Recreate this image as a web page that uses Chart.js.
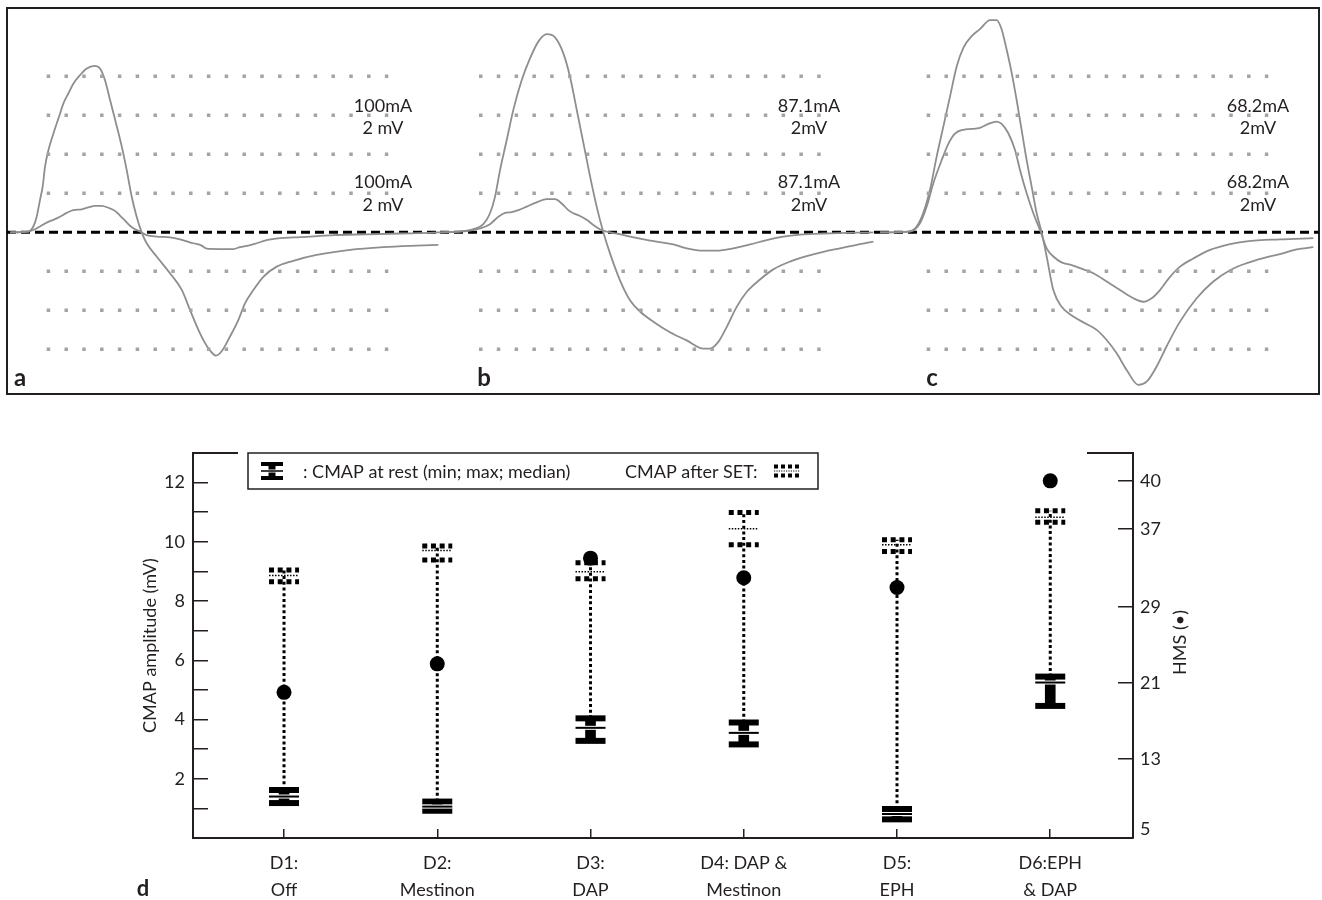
<!DOCTYPE html>
<html><head><meta charset="utf-8">
<script src="https://cdn.jsdelivr.net/npm/chart.js@4.4.1/dist/chart.umd.min.js"></script>
<style>
html,body{margin:0;padding:0;background:#fff;}
body{width:1322px;height:900px;position:relative;overflow:hidden;}
#frame{position:absolute;left:6px;top:7px;width:1314px;height:388px;border:2px solid #231f20;box-sizing:border-box;}
canvas{position:absolute;}
</style></head><body>
<div id="frame"></div>
<canvas id="panelA" width="440" height="400" style="left:0;top:0"></canvas>
<canvas id="panelB" width="440" height="400" style="left:440px;top:0"></canvas>
<canvas id="panelC" width="440" height="400" style="left:880px;top:0"></canvas>
<canvas id="panelD" width="1322" height="460" style="left:0;top:440px"></canvas>
<script>
// ---------- Panels a-c: CMAP traces, [sample, amplitude in divisions (2 mV / div)] ----------
const A_LARGE = [[30,0],[85,0.02],[100,0.15],[110,0.4],[120,0.83],[128,1.17],[135,1.68],[145,2.1],[160,2.53],[180,3.04],[190,3.3],[205,3.56],[220,3.81],[240,4.03],[260,4.2],[283,4.27],[300,4.2],[315,3.9],[330,3.4],[345,2.9],[365,2.21],[380,1.6],[395,0.92],[410,0.4],[425,0],[440,-0.28],[470,-0.62],[510,-1.05],[545,-1.47],[570,-1.99],[600,-2.59],[625,-2.97],[648,-3.16],[665,-3.05],[690,-2.67],[715,-2.25],[735,-1.82],[760,-1.48],[790,-1.14],[830,-0.88],[880,-0.73],[950,-0.58],[1050,-0.45],[1150,-0.38],[1250,-0.34],[1315,-0.32]];
const A_SMALL = [[30,0],[85,0.02],[100,0.06],[120,0.15],[140,0.25],[160,0.32],[180,0.4],[200,0.5],[220,0.57],[245,0.59],[265,0.64],[285,0.68],[305,0.68],[325,0.63],[345,0.55],[360,0.43],[375,0.3],[390,0.17],[405,0.08],[420,0.02],[440,-0.07],[470,-0.11],[510,-0.13],[540,-0.18],[580,-0.28],[605,-0.34],[620,-0.42],[660,-0.43],[700,-0.43],[720,-0.38],[745,-0.34],[770,-0.28],[800,-0.2],[840,-0.15],[880,-0.13],[930,-0.11],[1000,-0.07],[1100,-0.05],[1200,-0.03],[1300,-0.01],[1320,0]];
const B_LARGE = [[0,0],[60,0.02],[100,0.08],[130,0.21],[150,0.49],[165,0.91],[180,1.59],[200,2.36],[220,3.14],[245,3.9],[270,4.46],[295,4.89],[320,5.08],[345,5.0],[370,4.59],[390,3.99],[410,3.15],[430,2.3],[450,1.44],[470,0.66],[490,0],[510,-0.54],[540,-1.23],[570,-1.74],[600,-2.03],[640,-2.29],[690,-2.56],[740,-2.77],[790,-2.98],[810,-2.98],[835,-2.81],[860,-2.43],[890,-1.91],[920,-1.53],[960,-1.21],[1000,-0.95],[1050,-0.75],[1100,-0.61],[1150,-0.5],[1200,-0.41],[1250,-0.32],[1300,-0.24]];
const B_SMALL = [[0,0],[80,0.03],[120,0.1],[150,0.21],[175,0.4],[195,0.5],[215,0.52],[235,0.57],[260,0.66],[290,0.77],[320,0.85],[345,0.85],[365,0.74],[385,0.57],[400,0.49],[420,0.42],[440,0.32],[460,0.19],[480,0.08],[500,0.02],[530,-0.03],[560,-0.09],[600,-0.16],[650,-0.24],[700,-0.31],[740,-0.41],[790,-0.47],[830,-0.47],[880,-0.41],[930,-0.31],[980,-0.2],[1030,-0.11],[1080,-0.06],[1150,-0.03],[1300,0]];
const C_LARGE = [[0,0],[85,0.02],[110,0.15],[130,0.5],[150,1.09],[170,1.94],[190,2.71],[210,3.48],[230,4.25],[250,4.73],[275,5.03],[300,5.21],[330,5.44],[350,5.44],[365,5.2],[380,4.68],[395,4.09],[410,3.39],[425,2.62],[440,1.85],[455,1.17],[470,0.49],[485,0],[500,-0.62],[520,-1.48],[545,-1.91],[580,-2.16],[615,-2.33],[650,-2.5],[680,-2.76],[710,-3.1],[740,-3.53],[775,-3.91],[800,-3.83],[830,-3.44],[860,-2.92],[900,-2.29],[950,-1.69],[1000,-1.26],[1050,-0.97],[1100,-0.79],[1150,-0.66],[1200,-0.56],[1250,-0.44],[1300,-0.38]];
const C_SMALL = [[0,0],[90,0.02],[120,0.23],[140,0.66],[160,1.26],[185,1.85],[205,2.27],[225,2.53],[250,2.63],[275,2.65],[300,2.68],[325,2.78],[350,2.84],[365,2.78],[385,2.54],[405,2.11],[420,1.6],[440,1.0],[460,0.49],[480,0.06],[500,-0.41],[520,-0.62],[545,-0.77],[575,-0.84],[610,-0.95],[640,-1.05],[680,-1.26],[720,-1.48],[760,-1.69],[790,-1.78],[815,-1.69],[840,-1.48],[870,-1.14],[900,-0.88],[940,-0.67],[990,-0.45],[1050,-0.3],[1100,-0.23],[1200,-0.18],[1300,-0.15]];
const GRID_LEVELS = [4, 3, 2, 1, -1, -2, -3];
const STIM_A = ['100mA', '2 mV'];
const STIM_B = ['87.1mA', '2mV'];
const STIM_C = ['68.2mA', '2mV'];

// ---------- Panel d ----------
const CATEGORY_LINE1 = ['D1:', 'D2:', 'D3:', 'D4: DAP &', 'D5:', 'D6:EPH'];
const CATEGORY_LINE2 = ['Off', 'Mestinon', 'DAP', 'Mestinon', 'EPH', '& DAP'];
const REST_MIN    = [1.18, 0.92, 3.28, 3.16, 0.63, 4.46];
const REST_MAX    = [1.62, 1.23, 4.04, 3.90, 0.98, 5.45];
const REST_MEDIAN = [1.40, 1.06, 3.72, 3.55, 0.81, 5.25];
const SET_MIN     = [8.65, 9.39, 8.75, 9.90, 9.67, 10.66];
const SET_MAX     = [9.05, 9.86, 9.29, 10.99, 10.07, 11.05];
const SET_MEDIAN  = [8.86, 9.71, 8.99, 10.44, 9.90, 10.83];
const HMS_SCORE   = [20, 23, 34, 32, 31, 40];
const CMAP_TICK_LABELS = [2, 4, 6, 8, 10, 12];
const CMAP_TICK_MARKS = [1, 2, 3, 4, 5, 6, 7, 8, 9, 10, 11, 12];
const HMS_TICKS = [5, 13, 21, 29, 37, 40];
// HMS axis calibration: the HMS tick values against the CMAP-amplitude height (mV) they sit at
const HMS_AXIS_REF = [0.30, 2.67, 5.24, 7.80, 10.44, 12.06];

const INK = '#231f20';
const FONT = 'Lato, "Open Sans", sans-serif';
Chart.defaults.font.family = FONT;
Chart.defaults.color = INK;

const toXY = arr => arr.map(([x, y]) => ({x, y}));

function makePanel(id, traces, cfg) {
  const datasets = [];
  GRID_LEVELS.forEach(l => datasets.push({
    data: [{x: cfg.gridFrom, y: l}, {x: cfg.gridTo, y: l}],
    borderColor: '#a4a4a4', borderWidth: 3.5, borderDash: [3.5, 14.3], borderCapStyle: 'butt',
    pointRadius: 0, tension: 0
  }));
  traces.forEach(t => datasets.push({
    data: toXY(t), borderColor: '#8e8e8e', borderWidth: 1.8, pointRadius: 0,
    cubicInterpolationMode: 'monotone', fill: false
  }));
  datasets.push({
    data: [{x: cfg.baseFrom, y: 0}, {x: cfg.baseTo, y: 0}],
    borderColor: '#000', borderWidth: 3, borderDash: [9, 5], borderCapStyle: 'butt', pointRadius: 0
  });
  const textPlugin = {
    id: 'panelText',
    afterDraw(chart) {
      const {ctx, scales: {x, y}} = chart;
      ctx.save();
      ctx.fillStyle = INK;
      ctx.font = '18px ' + FONT;
      ctx.textAlign = 'center';
      ctx.textBaseline = 'middle';
      const tx = x.getPixelForValue(cfg.labelT);
      [[3.24, 0], [2.68, 1], [1.29, 0], [0.70, 1]].forEach(([lv, k]) => {
        ctx.fillText(cfg.labels[k], tx, y.getPixelForValue(lv));
      });
      ctx.font = 'bold 24px ' + FONT;
      ctx.textBaseline = 'alphabetic';
      ctx.fillText(cfg.letter, cfg.letterX, 386);
      ctx.restore();
    }
  };
  return new Chart(document.getElementById(id), {
    type: 'line',
    data: {datasets},
    options: {
      responsive: false, animation: false, events: [],
      layout: {padding: 0},
      plugins: {legend: {display: false}, tooltip: {enabled: false}},
      scales: {
        x: {type: 'linear', display: false, min: 0, max: 1320},
        y: {type: 'linear', display: false, min: -4.299, max: 5.957}
      }
    },
    plugins: [textPlugin]
  });
}

makePanel('panelA', [A_LARGE, A_SMALL], {gridFrom: 140, gridTo: 1165, baseFrom: 21, baseTo: 1320, labels: STIM_A, labelT: 1149, letter: 'a', letterX: 20});
makePanel('panelB', [B_LARGE, B_SMALL], {gridFrom: 117, gridTo: 1142, baseFrom: 0, baseTo: 1320, labels: STIM_B, labelT: 1107, letter: 'b', letterX: 44});
makePanel('panelC', [C_LARGE, C_SMALL], {gridFrom: 140, gridTo: 1165, baseFrom: 0, baseTo: 1316, labels: STIM_C, labelT: 1134, letter: 'c', letterX: 52});

// ---------- custom HMS scale (piecewise calibrated to the CMAP axis) ----------
const REF_MIN = 0, REF_MAX = 13;
class HmsScale extends Chart.LinearScale {
  determineDataLimits() { this.min = HMS_TICKS[0]; this.max = HMS_TICKS[HMS_TICKS.length - 1]; }
  buildTicks() { return HMS_TICKS.map(v => ({value: v})); }
  toRef(v) {
    const k = HMS_TICKS, r = HMS_AXIS_REF;
    let i = 0;
    while (i < k.length - 2 && v > k[i + 1]) i++;
    return r[i] + (v - k[i]) * (r[i + 1] - r[i]) / (k[i + 1] - k[i]);
  }
  getPixelForValue(v) {
    if (v === null || v === undefined) return NaN;
    return this.getPixelForDecimal((this.toRef(v) - REF_MIN) / (REF_MAX - REF_MIN));
  }
  getValueForPixel(p) {
    const ref = REF_MIN + this.getDecimalForPixel(p) * (REF_MAX - REF_MIN);
    const k = HMS_TICKS, r = HMS_AXIS_REF;
    let i = 0;
    while (i < r.length - 2 && ref > r[i + 1]) i++;
    return k[i] + (ref - r[i]) * (k[i + 1] - k[i]) / (r[i + 1] - r[i]);
  }
}
HmsScale.id = 'hms';
HmsScale.defaults = {};
Chart.register(HmsScale);

const markerPlugin = {
  id: 'cmapMarkers',
  beforeDatasetsDraw(chart) {
    const {ctx, scales: {x, y}} = chart;
    ctx.save();
    ctx.strokeStyle = '#000';
    ctx.lineWidth = 3;
    ctx.lineCap = 'butt';
    ctx.setLineDash([3, 2.7]);
    CATEGORY_LINE1.forEach((_, i) => {
      const px = x.getPixelForValue(i);
      ctx.beginPath();
      ctx.moveTo(px, y.getPixelForValue(REST_MAX[i]));
      ctx.lineTo(px, y.getPixelForValue(SET_MAX[i]));
      ctx.stroke();
    });
    ctx.restore();
  },
  afterDatasetDraw(chart, args) {
    if (args.index !== 0) return;
    const {ctx, scales: {x, y}} = chart;
    const W = 30;
    ctx.save();
    ctx.lineCap = 'butt';
    CATEGORY_LINE1.forEach((_, i) => {
      const px = x.getPixelForValue(i);
      const hl = (py, lw, color, dash) => {
        ctx.beginPath();
        ctx.setLineDash(dash || []);
        ctx.lineWidth = lw; ctx.strokeStyle = color;
        ctx.moveTo(px - W / 2, py); ctx.lineTo(px + W / 2, py);
        ctx.stroke();
      };
      hl(y.getPixelForValue(REST_MAX[i]), 6, '#000');
      hl(y.getPixelForValue(REST_MIN[i]), 6, '#000');
      const pm = y.getPixelForValue(REST_MEDIAN[i]);
      hl(pm, 4, '#fff'); hl(pm, 2, '#000');
      hl(y.getPixelForValue(SET_MAX[i]), 5, '#000', [5, 3.7]);
      hl(y.getPixelForValue(SET_MIN[i]), 5, '#000', [5, 3.7]);
      hl(y.getPixelForValue(SET_MEDIAN[i]), 1.5, '#000', [1.5, 1.5]);
    });
    ctx.restore();
  },
  afterDraw(chart) {
    const {ctx, chartArea: ca} = chart;
    ctx.save();
    // top stubs of the frame
    ctx.strokeStyle = INK; ctx.lineWidth = 2; ctx.setLineDash([]);
    ctx.beginPath();
    ctx.moveTo(ca.left, ca.top); ctx.lineTo(ca.left + 45, ca.top);
    ctx.moveTo(ca.right - 46, ca.top); ctx.lineTo(ca.right, ca.top);
    ctx.stroke();
    // legend box
    const bx = 248, by = 13, bw = 570, bh = 36;
    ctx.fillStyle = '#fff';
    ctx.fillRect(bx, by, bw, bh);
    ctx.lineWidth = 1.5; ctx.strokeStyle = INK;
    ctx.strokeRect(bx, by, bw, bh);
    // rest symbol
    const sx = 272, sy = 31;
    ctx.fillStyle = '#000';
    ctx.fillRect(sx - 11, sy - 9, 22, 4);
    ctx.fillRect(sx - 11, sy + 5, 22, 4);
    ctx.fillRect(sx - 3.5, sy - 9, 7, 18);
    ctx.fillStyle = '#fff'; ctx.fillRect(sx - 11, sy - 1.5, 22, 3);
    ctx.fillStyle = '#000'; ctx.fillRect(sx - 11, sy - 0.75, 22, 1.5);
    // SET symbol
    const qx = 787, qy = 31;
    ctx.strokeStyle = '#000';
    [[qy - 4.5, 4, [4, 3]], [qy + 4.5, 4, [4, 3]], [qy, 1, [1.2, 1.2]]].forEach(([yy, lw, d]) => {
      ctx.beginPath(); ctx.setLineDash(d); ctx.lineWidth = lw;
      ctx.moveTo(qx - 13, yy); ctx.lineTo(qx + 13, yy); ctx.stroke();
    });
    ctx.setLineDash([]);
    ctx.fillStyle = INK;
    ctx.font = '18px ' + FONT;
    ctx.textAlign = 'left'; ctx.textBaseline = 'middle';
    ctx.fillText(': CMAP at rest (min; max; median)', 303, sy + 1);
    ctx.fillText('CMAP after SET:', 625, sy + 1);
    // right axis title
    ctx.save();
    ctx.translate(1180, (ca.top + ca.bottom) / 2 - 3);
    ctx.rotate(-Math.PI / 2);
    ctx.textAlign = 'center';
    ctx.fillText('HMS (\u2022)', 0, 0);
    ctx.restore();
    // panel letter
    ctx.font = 'bold 22px ' + FONT;
    ctx.textAlign = 'center'; ctx.textBaseline = 'alphabetic';
    ctx.fillText('d', 143, 456);
    ctx.restore();
  }
};

const noScalePad = s => { s.paddingTop = 0; s.paddingBottom = 0; s.paddingLeft = 0; s.paddingRight = 0; };

new Chart(document.getElementById('panelD'), {
  type: 'bar',
  data: {
    datasets: [
      {label: 'CMAP at rest', data: REST_MIN.map((m, i) => ({x: i, y: [m, REST_MAX[i]]})),
       backgroundColor: '#000', barThickness: 10, grouped: false, xAxisID: 'x', yAxisID: 'y'},
      {type: 'scatter', label: 'HMS', data: HMS_SCORE.map((v, i) => ({x: i, y: v})),
       xAxisID: 'x', yAxisID: 'y2', pointRadius: 7.5, pointBackgroundColor: '#000',
       pointBorderColor: '#000', pointBorderWidth: 0, showLine: false}
    ]
  },
  options: {
    responsive: false, animation: false, events: [],
    layout: {padding: {top: 13, left: 0, right: 0, bottom: 0}},
    plugins: {legend: {display: false}, tooltip: {enabled: false}},
    scales: {
      x: {
        type: 'linear', position: 'bottom', min: -0.594, max: 5.54, offset: false,
        grid: {offset: false, drawOnChartArea: false, tickLength: -9, color: INK, lineWidth: 1.5},
        border: {display: true, color: INK, width: 2},
        ticks: {autoSkip: false, maxRotation: 0, padding: 20.5, color: INK,
                font: {size: 18, lineHeight: 1.5},
                callback: v => [CATEGORY_LINE1[v], CATEGORY_LINE2[v]]},
        afterBuildTicks: s => { s.ticks = CATEGORY_LINE1.map((_, i) => ({value: i})); },
        afterFit: s => { s.height = 62; noScalePad(s); }
      },
      y: {
        type: 'linear', position: 'left', min: 0, max: 13,
        grid: {drawOnChartArea: false, tickLength: -15, color: INK, lineWidth: 1.5},
        border: {display: true, color: INK, width: 2},
        ticks: {padding: 23, color: INK, font: {size: 18},
                callback: v => CMAP_TICK_LABELS.includes(v) ? String(v) : ''},
        afterBuildTicks: s => { s.ticks = CMAP_TICK_MARKS.map(v => ({value: v})); },
        title: {display: true, text: 'CMAP amplitude (mV)', color: INK, font: {size: 18},
                padding: {top: 139, bottom: 0}},
        afterFit: s => { s.width = 193; noScalePad(s); }
      },
      y2: {
        type: 'hms', position: 'right',
        grid: {drawOnChartArea: false, tickLength: -15, lineWidth: 1.5,
               color: c => (c.tick && c.tick.value === HMS_TICKS[0]) ? 'rgba(0,0,0,0)' : INK},
        border: {display: true, color: INK, width: 2},
        ticks: {padding: 22, color: INK, font: {size: 18}},
        afterFit: s => { s.width = 189; noScalePad(s); }
      }
    }
  },
  plugins: [markerPlugin]
});
</script>
</body></html>
